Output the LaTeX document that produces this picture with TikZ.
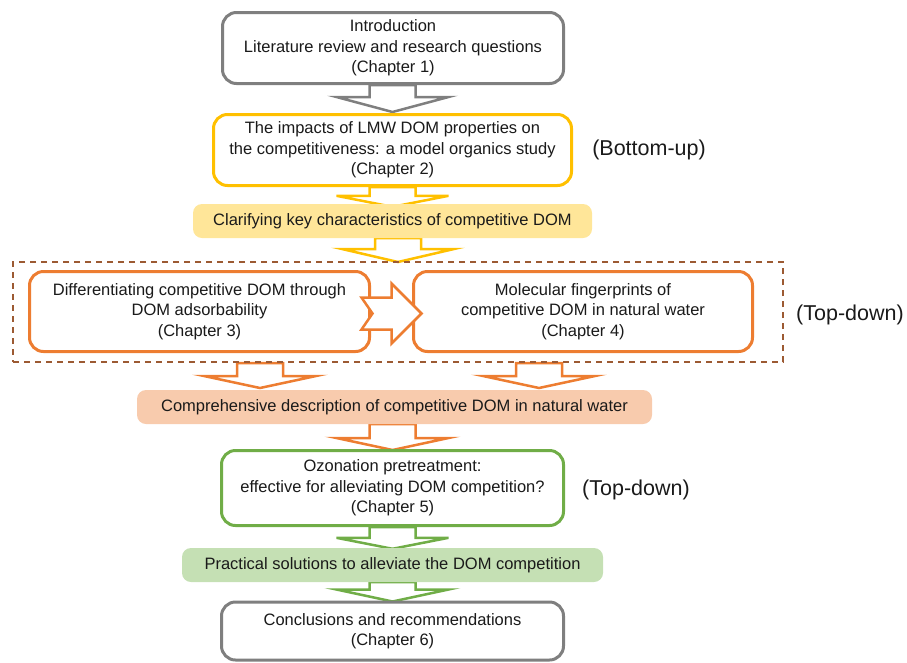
\documentclass[tikz,border=0pt]{standalone}
\usepackage{fontspec}
\setmainfont{Liberation Sans}
\usetikzlibrary{calc,backgrounds}
\definecolor{cgray}{HTML}{7F7F7F}
\definecolor{cyellow}{HTML}{FFC000}
\definecolor{cyband}{HTML}{FFE699}
\definecolor{corange}{HTML}{ED7D31}
\definecolor{coband}{HTML}{F8CBAD}
\definecolor{cgreen}{HTML}{70AD47}
\definecolor{cgband}{HTML}{C5E0B4}
\definecolor{cbrown}{HTML}{9C5A33}
\definecolor{ctxt}{HTML}{1A1A1A}
\newcommand\mainfs{\fontsize{16.5}{20.5}\selectfont}
\newcommand\labfs{\fontsize{21.5}{24}\selectfont}
% #1 shaft top, #2 tip, #3 colour, #4 head length
\newcommand\bdown[4]{\draw[blk,draw=#3] let \p1=#1,\p2=#2 in
  (\x2-23pt,\y1) -- (\x2-23pt,\y2+#4pt) -- (\x2-56pt,\y2+#4pt) -- (\x2,\y2)
  -- (\x2+56pt,\y2+#4pt) -- (\x2+23pt,\y2+#4pt) -- (\x2+23pt,\y1) -- cycle;}
\begin{document}
\begin{tikzpicture}[x=1pt,y=-1pt,
  box/.style={draw,line width=3pt,rounded corners=14pt,fill=white,align=center,
    text=ctxt,font=\mainfs,inner sep=0pt},
  band/.style={rounded corners=9pt,align=center,text=ctxt,font=\mainfs,inner sep=0pt},
  blk/.style={line width=2.5pt,fill=white,line join=miter},
  lab/.style={text=ctxt,font=\labfs,inner sep=0pt}]
\useasboundingbox (0,0) rectangle (907,662);

\node[box,draw=cgray,minimum width=341,minimum height=71] (b1) at (393,48)
  {Introduction\\Literature review and research questions\\(Chapter 1)};
\node[box,draw=cyellow,minimum width=358,minimum height=71] (b2) at (392.5,150)
  {The impacts of LMW DOM properties on\\the competitiveness: a model organics study\\(Chapter 2)};
\node[band,fill=cyband,minimum width=399,minimum height=34] (k1) at (392.5,221)
  {Clarifying key characteristics of competitive DOM};
\node[draw=cbrown,line width=2pt,dash pattern=on 6pt off 5pt,minimum width=770,
  minimum height=100,inner sep=0pt] (dash) at (398,312) {};
\node[box,draw=corange,minimum width=340,minimum height=80] (b3) at (199.5,311.5)
  {Differentiating competitive DOM through\\DOM adsorbability\\(Chapter 3)};
\node[box,draw=corange,minimum width=339,minimum height=80] (b4) at (583,311.5)
  {Molecular fingerprints of\\competitive DOM in natural water\\(Chapter 4)};
\node[band,fill=coband,minimum width=515,minimum height=34] (k2) at (394.5,407)
  {Comprehensive description of competitive DOM in natural water};
\node[box,draw=cgreen,minimum width=342,minimum height=75] (b5) at (392.5,488)
  {Ozonation pretreatment:\\effective for alleviating DOM competition?\\(Chapter 5)};
\node[band,fill=cgband,minimum width=421,minimum height=34] (k3) at (392.5,565)
  {Practical solutions to alleviate the DOM competition};
\node[box,draw=cgray,minimum width=342,minimum height=58] (b6) at (392.5,631)
  {Conclusions and recommendations\\(Chapter 6)};

\node[lab] (l1) at (649,150) {(Bottom-up)};
\node[lab] (l2) at (850,315) {(Top-down)};
\node[lab] (l3) at (636,490) {(Top-down)};

\coordinate (t3) at (260,388);
\coordinate (t4) at (539,388);

\begin{scope}[on background layer]
\bdown{(b1.south)}{($(b2.north)+(0,-1)$)}{cgray}{15}
\bdown{(b2.south)}{($(k1.north)+(0,3)$)}{cyellow}{11}
\bdown{(k1.south)}{($(dash.north)+(0,1)$)}{cyellow}{13}
\bdown{(dash.south -| t3)}{(t3)}{corange}{12}
\bdown{(dash.south -| t4)}{(t4)}{corange}{12}
\bdown{(k2.south)}{($(b5.north)+(0,1)$)}{corange}{12}
\bdown{(b5.south)}{($(k3.north)+(0,1)$)}{cgreen}{11}
\bdown{(k3.south)}{($(b6.north)+(0,1)$)}{cgreen}{12}
\end{scope}

\coordinate (rm) at ($(b3.east)!0.5!(b4.west)$);
\draw[blk,draw=corange] ($(rm)+(-30,-14)$) -- ($(rm)+(0,-14)$) -- ($(rm)+(0,-28)$)
  -- ($(rm)+(30,2)$) -- ($(rm)+(0,32)$) -- ($(rm)+(0,18)$) -- ($(rm)+(-30,18)$)
  -- ($(rm)+(-19,2)$) -- cycle;
\end{tikzpicture}
\end{document}
